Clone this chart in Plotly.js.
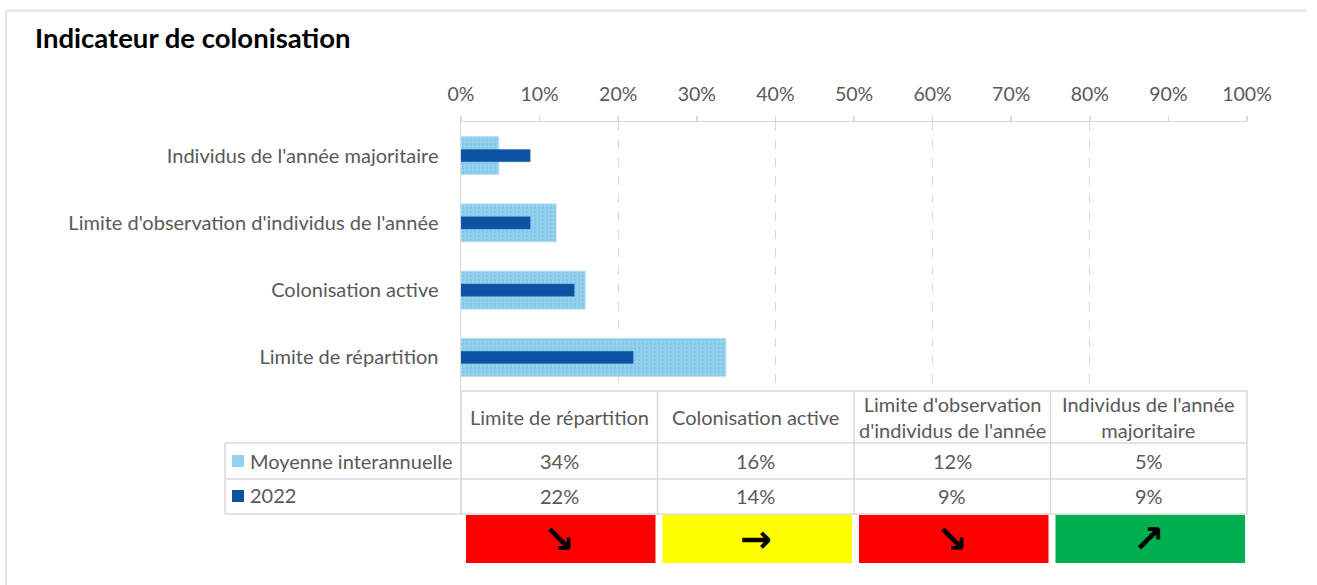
<!DOCTYPE html>
<html>
<head>
<meta charset="utf-8">
<script src="https://cdn.plot.ly/plotly-3.0.1.min.js"></script>
<style>html,body{margin:0;padding:0;background:#fff;}#chart{width:1317px;height:585px;}</style>
</head>
<body>
<div id="chart"></div>
<script>
// ---- Data ----
var categories = ["Limite de répartition", "Colonisation active", "Limite d'observation d'individus de l'année", "Individus de l'année majoritaire"];
var headerLabels = ["Limite de répartition", "Colonisation active", "Limite d'observation<br>d'individus de l'année", "Individus de l'année<br>majoritaire"];
var seriesNames = ["Moyenne interannuelle", "2022"];
var moyenne = [0.337, 0.158, 0.121, 0.048];
var annee2022 = [0.219, 0.144, 0.088, 0.088];
var trendArrows = ["↘", "→", "↘", "↗"];
var trendColors = ["#FF0000", "#FFFF00", "#FF0000", "#00B050"];
var xTickVals = [0, 0.1, 0.2, 0.3, 0.4, 0.5, 0.6, 0.7, 0.8, 0.9, 1.0];

// ---- Styles ----
var W = 1317, H = 585;
var FONT = "Lato, 'Open Sans', sans-serif";
var TXT = "#595959";
var GRID = "#D9D9D9";
var LIGHT = "#93D1EE", DARK = "#0B53A2";
var FS = 20;
function px(x){ return x / W; }
function py(y){ return 1 - y / H; }

var xDom = [px(461), px(1247)];
var yDom = [py(391), py(122)];
function colX(f){ return xDom[0] + f * (xDom[1] - xDom[0]); } // axis fraction -> paper

var traces = [
  {
    type: "bar", orientation: "h", name: seriesNames[0],
    y: categories, x: moyenne, width: 0.565,
    xaxis: "x", yaxis: "y",
    marker: {
      color: LIGHT,
      pattern: {shape: ".", fgcolor: "#80C4E7", bgcolor: LIGHT, size: 4, solidity: 0.3},
      line: {color: "#B5DFF3", width: 1}
    },
    hoverinfo: "skip", showlegend: false
  },
  {
    type: "bar", orientation: "h", name: seriesNames[1],
    y: categories, x: annee2022, width: 0.18,
    xaxis: "x2", yaxis: "y",
    marker: {color: DARK, line: {color: "#2A6AB5", width: 0.5}},
    hoverinfo: "skip", showlegend: false
  }
];

var shapes = [];
var annotations = [];
var lineStyle = {color: GRID, width: 1.5};

// Outer chart border
shapes.push({type: "line", xref: "paper", yref: "paper", x0: px(6), x1: px(1306), y0: py(10.5), y1: py(10.5), line: {color: "#E3E3E3", width: 2}});
shapes.push({type: "line", xref: "paper", yref: "paper", x0: px(6), x1: px(6), y0: py(10), y1: py(585), line: {color: "#E3E3E3", width: 2}});

// Data table grid
var tTop = py(391), tHead = py(443), tRow1 = py(479), tBot = py(514);
var legendLeft = px(225);
shapes.push({type: "line", xref: "paper", yref: "paper", x0: colX(0), x1: colX(1), y0: tTop, y1: tTop, line: lineStyle});
[tHead, tRow1, tBot].forEach(function(yy){
  shapes.push({type: "line", xref: "paper", yref: "paper", x0: legendLeft, x1: colX(1), y0: yy, y1: yy, line: lineStyle});
});
for (var i = 0; i <= categories.length; i++) {
  var f = i / categories.length;
  shapes.push({type: "line", xref: "paper", yref: "paper", x0: colX(f), x1: colX(f), y0: tTop, y1: tBot, line: lineStyle});
}
shapes.push({type: "line", xref: "paper", yref: "paper", x0: legendLeft, x1: legendLeft, y0: tHead, y1: tBot, line: lineStyle});

// Legend keys
var keyRows = [[py(455), py(467)], [py(490), py(502)]];
var keyColors = [LIGHT, DARK];
for (var k = 0; k < 2; k++) {
  shapes.push({type: "rect", xref: "paper", yref: "paper", x0: px(232), x1: px(244), y0: keyRows[k][0], y1: keyRows[k][1],
    fillcolor: keyColors[k], line: {width: 0}});
  annotations.push({xref: "paper", yref: "paper", x: px(248), y: (k === 0 ? py(461) : py(495)), xanchor: "left", yanchor: "middle",
    text: seriesNames[k], showarrow: false, font: {family: FONT, size: FS, color: TXT}});
}

// Table headers and values
var n = categories.length;
for (var c = 0; c < n; c++) {
  var cx = colX((c + 0.5) / n);
  annotations.push({xref: "paper", yref: "paper", x: cx, y: py(417), xanchor: "center", yanchor: "middle",
    text: headerLabels[c], showarrow: false, font: {family: FONT, size: FS, color: TXT}});
  annotations.push({xref: "paper", yref: "paper", x: cx, y: py(461), xanchor: "center", yanchor: "middle",
    text: Math.round(moyenne[c] * 100) + "%", showarrow: false, font: {family: FONT, size: FS, color: TXT}});
  annotations.push({xref: "paper", yref: "paper", x: cx, y: py(496), xanchor: "center", yanchor: "middle",
    text: Math.round(annee2022[c] * 100) + "%", showarrow: false, font: {family: FONT, size: FS, color: TXT}});
  // trend boxes
  shapes.push({type: "rect", xref: "paper", yref: "paper",
    x0: colX(c / n) + px(5), x1: colX((c + 1) / n) - px(2), y0: py(515), y1: py(563),
    fillcolor: trendColors[c], line: {width: 0}});
  annotations.push({xref: "paper", yref: "paper", x: cx, y: py(539), xanchor: "center", yanchor: "middle",
    text: "<b>" + trendArrows[c] + "</b>", showarrow: false, font: {family: "DejaVu Sans", size: 38, color: "#000"}});
}

// Title
annotations.push({xref: "paper", yref: "paper", x: px(33), y: py(37), xanchor: "left", yanchor: "middle",
  text: "<b>Indicateur de colonisation</b>", showarrow: false, font: {family: FONT, size: 27.5, color: "#000"}});

var layout = {
  width: W, height: H,
  margin: {l: 0, r: 0, t: 0, b: 0, pad: 0},
  paper_bgcolor: "#fff", plot_bgcolor: "rgba(0,0,0,0)",
  barmode: "overlay",
  showlegend: false,
  xaxis: {
    domain: xDom, range: [0, 1], side: "top", anchor: "y",
    tickvals: xTickVals, tickformat: ".0%",
    ticks: "outside", ticklen: 5, tickwidth: 1.5, tickcolor: GRID,
    showline: true, linecolor: GRID, linewidth: 1.5,
    showgrid: false, zeroline: false, fixedrange: true,
    ticklabelstandoff: 7,
    tickfont: {family: FONT, size: 19.5, color: TXT}
  },
  xaxis2: {
    overlaying: "x", anchor: "y", side: "top", range: [0, 1], domain: xDom,
    dtick: 0.2, tick0: 0, showgrid: true, griddash: "dash", gridcolor: GRID, gridwidth: 1,
    showticklabels: false, ticks: "", showline: false, zeroline: false, fixedrange: true
  },
  yaxis: {
    domain: yDom, type: "category", range: [-0.5, 3.5],
    showline: true, linecolor: GRID, linewidth: 1.5,
    ticks: "", showgrid: false, zeroline: false, fixedrange: true,
    ticklabelstandoff: 17,
    tickfont: {family: FONT, size: FS, color: TXT}
  },
  shapes: shapes,
  annotations: annotations
};

Plotly.newPlot("chart", traces, layout, {staticPlot: true, displayModeBar: false});
</script>
</body>
</html>
